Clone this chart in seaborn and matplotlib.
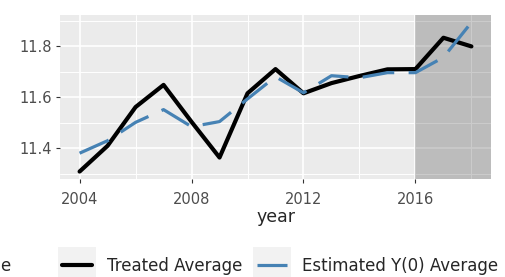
import numpy as np
import pandas as pd
import seaborn as sns
import matplotlib.pyplot as plt
from matplotlib.ticker import MultipleLocator
from matplotlib.patches import Rectangle
from matplotlib.legend_handler import HandlerLine2D

years = list(range(2004, 2019))
treated = [11.308, 11.409, 11.561, 11.648, 11.503, 11.363, 11.615, 11.710,
           11.615, 11.655, 11.683, 11.709, 11.710, 11.833, 11.799]
estimated = [11.380, 11.429, 11.501, 11.551, 11.484, 11.504, 11.593, 11.680,
             11.617, 11.684, 11.676, 11.696, 11.696, 11.756, 11.893]
treat_start = 2016
labels = ["Treated Average", "Estimated Y(0) Average"]

df = pd.DataFrame({"year": years, "treated": treated, "estimated": estimated})

sns.set_theme(style="darkgrid", rc={
    "axes.facecolor": "#EBEBEB",
    "grid.color": "white",
    "xtick.bottom": True,
    "ytick.left": True,
})
plt.rcParams["font.family"] = ["DejaVu Sans"]


class KeyHandler(HandlerLine2D):
    # ggplot-like grey key box behind the line
    def create_artists(self, legend, orig_handle, xdescent, ydescent,
                       width, height, fontsize, trans):
        bg = Rectangle((-xdescent - 3, -ydescent - 9), width + 6, height + 18,
                       facecolor="#F2F2F2", edgecolor="none", transform=trans)
        arts = super().create_artists(legend, orig_handle, xdescent, ydescent,
                                      width, height, fontsize, trans)
        return [bg] + list(arts)


fig = plt.figure(figsize=(5.06, 2.77), dpi=100)
ax = fig.add_axes([60 / 506, 1 - 179 / 277, 431 / 506, 164 / 277])

sns.lineplot(data=df, x="year", y="treated", ax=ax, color="black",
             linewidth=3.0, label=labels[0])
sns.lineplot(data=df, x="year", y="estimated", ax=ax, color="#4682B4",
             linewidth=2.3, dashes=False, label=labels[1])
ax.lines[1].set_dashes((10, 4.5))

xlo, xhi = min(years), max(years)
xpad = (xhi - xlo) * 0.05
ax.set_xlim(xlo - xpad, xhi + xpad)
vals = treated + estimated
ylo, yhi = min(vals), max(vals)
ypad = (yhi - ylo) * 0.05
ax.set_ylim(ylo - ypad, yhi + ypad)

ax.axvspan(treat_start, xhi + xpad, color="black", alpha=0.2, lw=0, zorder=1)

ax.xaxis.set_minor_locator(MultipleLocator(2))
ax.yaxis.set_major_locator(MultipleLocator(0.2))
ax.yaxis.set_minor_locator(MultipleLocator(0.1))
ax.set_xticks([2004, 2008, 2012, 2016])
ax.grid(which="major", color="white", linewidth=1.2)
ax.grid(which="minor", color="white", linewidth=0.7)
ax.set_axisbelow(True)
for s in ax.spines.values():
    s.set_visible(False)

ax.tick_params(axis="both", which="major", length=3, width=0.8,
               color="#333333", labelcolor="#4D4D4D", labelsize=10.5)
ax.tick_params(axis="x", which="major", pad=6)
ax.tick_params(axis="y", which="major", pad=3)
ax.tick_params(which="minor", length=0)
ax.set_xlabel("year", fontsize=12.5, labelpad=1)
ax.set_ylabel("")

handles, _ = ax.get_legend_handles_labels()
ax.legend_.remove()
fig.legend(handles, labels, loc="center", bbox_to_anchor=(280 / 506, 1 - 266 / 277),
           ncol=2, frameon=False, fontsize=12, handlelength=1.8,
           handletextpad=0.9, columnspacing=0.9,
           handler_map={h: KeyHandler() for h in handles})
fig.text(0.0, 1 - 266 / 277, "e", fontsize=12, va="center", ha="left")

fig.savefig("out.png", dpi=100)
